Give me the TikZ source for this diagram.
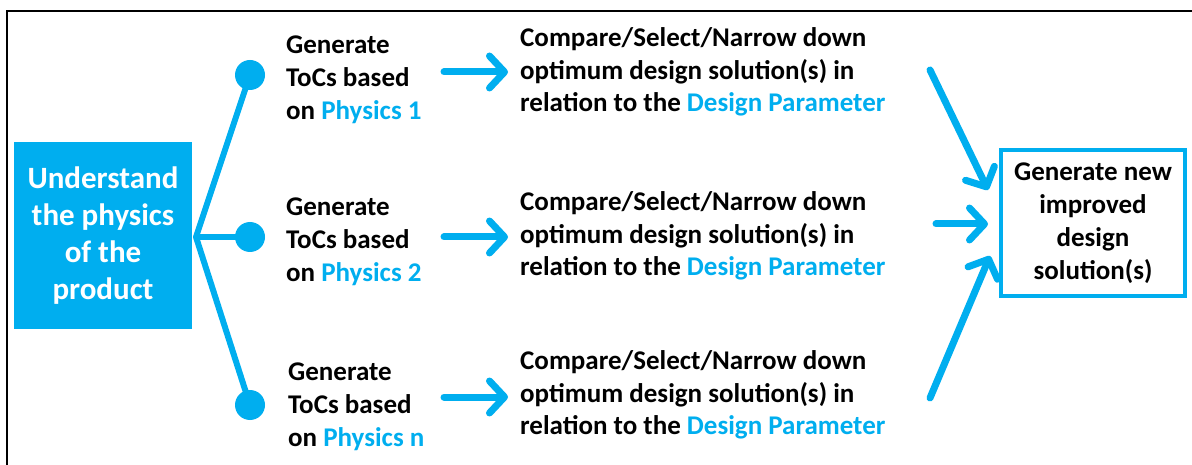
\documentclass[tikz,border=0pt]{standalone}
\usepackage{fontspec}
\setmainfont{Carlito}
\usetikzlibrary{arrows.meta}
\definecolor{cy}{RGB}{0,174,239}
\begin{document}
\begin{tikzpicture}[x=1pt,y=-1pt,
  arr/.style={draw=cy, line width=7pt, line cap=round,
    -{Straight Barb[length=15pt,width=32pt,line width=7pt,round]}},
  branch/.style={draw=cy, line width=6pt, line join=round},
  dot/.style={circle, fill=cy, minimum size=30pt, inner sep=0pt},
  gen/.style={anchor=west, align=left, inner sep=0pt, font=\fontsize{27}{33}\selectfont\bfseries},
  cmp/.style={anchor=west, align=left, inner sep=0pt, font=\fontsize{27}{32.5}\selectfont\bfseries}]
\useasboundingbox (0,0) rectangle (1192,465);
\fill[white] (0,0) rectangle (1192,465);
\draw[line width=1.6pt] (7,465) -- (7,11) -- (1192,11);

\node[fill=cy, minimum width=178pt, minimum height=187pt, inner sep=0pt,
      text=white, align=center, font=\fontsize{31}{37}\selectfont\bfseries]
  (phys) at (103,235.5) {Understand\\the physics\\of the\\product};

\coordinate (br) at (196,237);
\node[dot] (d1) at (250,75) {};
\node[dot] (d2) at (250,237) {};
\node[dot] (d3) at (250,405) {};
\draw[branch] (d1.center) -- (br) -- (d3.center);
\draw[branch] (br) -- (d2.center);

\node[gen] (g1) at (286,80) {Generate\\ToCs based\\on \textcolor{cy}{Physics 1}};
\node[gen] (g2) at (286,242) {Generate\\ToCs based\\on \textcolor{cy}{Physics 2}};
\node[gen] (g3) at (288,407) {Generate\\ToCs based\\on \textcolor{cy}{Physics n}};

\node[cmp] (c1) at (520,72) {Compare/Select/Narrow down\\optimum design solution(s) in\\relation to the \textcolor{cy}{Design Parameter}};
\node[cmp] (c2) at (520,236) {Compare/Select/Narrow down\\optimum design solution(s) in\\relation to the \textcolor{cy}{Design Parameter}};
\node[cmp] (c3) at (520,395) {Compare/Select/Narrow down\\optimum design solution(s) in\\relation to the \textcolor{cy}{Design Parameter}};

\coordinate (a1s) at (444,72);  \coordinate (a1e) at (508,72);
\coordinate (a2s) at (444,237); \coordinate (a2e) at (508,237);
\coordinate (a3s) at (444,397); \coordinate (a3e) at (508,397);
\draw[arr] (a1s) -- (a1e);
\draw[arr] (a2s) -- (a2e);
\draw[arr] (a3s) -- (a3e);

\node[draw=cy, line width=3.5pt, minimum width=184pt, minimum height=146pt, inner sep=0pt,
      align=center, font=\fontsize{27}{33}\selectfont\bfseries]
  (res) at (1093,223) {Generate new\\improved\\design\\solution(s)};

\coordinate (r1s) at (930,70);  \coordinate (r1e) at (988,190);
\coordinate (r2s) at (936,224); \coordinate (r2e) at (988,224);
\coordinate (r3s) at (930,398); \coordinate (r3e) at (990,256);
\draw[arr] (r1s) -- (r1e);
\draw[arr] (r2s) -- (r2e);
\draw[arr] (r3s) -- (r3e);
\end{tikzpicture}
\end{document}
